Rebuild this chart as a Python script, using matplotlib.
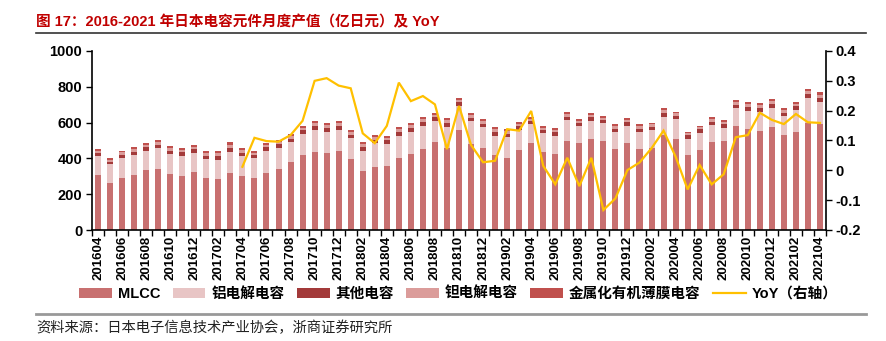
import numpy as np
import matplotlib
matplotlib.use("Agg")
import matplotlib.pyplot as plt
from matplotlib.patches import Patch
from matplotlib.lines import Line2D

plt.rcParams['font.family'] = ['Liberation Sans', 'Noto Sans CJK SC', 'DejaVu Sans']

months = [f"{y}{m:02d}" for y in range(2016, 2022) for m in range(1, 13)]
months = months[months.index("201604"):months.index("202104") + 1]

mlcc = [306, 261, 291, 307, 336, 341, 313, 302, 322, 289, 283, 321,
        302, 289, 318, 339, 378, 417, 434, 432, 443, 398, 330, 354,
        357, 402, 425, 454, 493, 456, 559, 480, 460, 419, 404, 449,
        488, 438, 423, 499, 484, 508, 495, 454, 484, 452, 456, 531,
        510, 421, 449, 492, 495, 583, 564, 555, 574, 531, 549, 596, 592]
alu = [106, 105, 112, 113, 106, 116, 111, 110, 109, 105, 109, 114,
       111, 111, 123, 121, 115, 119, 125, 117, 116, 114, 113, 130,
       123, 125, 124, 127, 118, 121, 134, 127, 113, 108, 114, 110,
       102, 102, 104, 115, 97, 103, 101, 95, 97, 97, 103, 102,
       112, 89, 95, 93, 77, 97, 103, 102, 106, 106, 121, 139, 125]
other = [19, 16, 18, 18, 19, 20, 19, 21, 19, 20, 21, 24,
         19, 18, 21, 19, 18, 20, 22, 22, 21, 20, 21, 21,
         21, 21, 22, 22, 20, 21, 20, 21, 21, 21, 20, 20,
         19, 18, 20, 20, 18, 19, 18, 18, 20, 18, 18, 22,
         17, 18, 18, 20, 19, 21, 22, 23, 22, 19, 20, 25, 23]
tantalum = [13, 11, 13, 13, 13, 14, 13, 15, 13, 14, 15, 17,
            13, 13, 15, 13, 13, 14, 15, 15, 15, 14, 15, 15,
            15, 14, 15, 15, 14, 15, 14, 15, 15, 14, 14, 14,
            13, 13, 14, 14, 12, 14, 13, 13, 14, 13, 13, 16,
            12, 12, 12, 14, 14, 14, 16, 16, 16, 14, 14, 17, 16]
film = [10, 8, 10, 10, 10, 10, 11, 11, 11, 11, 11, 13,
        11, 10, 11, 11, 10, 11, 11, 12, 12, 11, 11, 11,
        11, 11, 12, 11, 10, 11, 10, 11, 11, 11, 10, 10,
        10, 10, 11, 11, 9, 10, 10, 10, 11, 10, 10, 12,
        8, 9, 9, 10, 10, 11, 12, 12, 12, 10, 11, 13, 13]
yoy = [None] * 12 + [
    0.012, 0.109, 0.098, 0.096, 0.118, 0.166, 0.300, 0.309, 0.284, 0.275, 0.124, 0.091,
    0.149, 0.294, 0.232, 0.249, 0.221, 0.071, 0.216, 0.085, 0.027, 0.032, 0.138, 0.133,
    0.199, 0.015, -0.047, 0.042, -0.053, 0.042, -0.133, -0.094, 0.001, 0.026, 0.074, 0.133,
    0.046, -0.064, 0.018, -0.047, -0.013, 0.111, 0.118, 0.193, 0.169, 0.155, 0.189, 0.161, 0.159]

names = ["MLCC", "铝电解电容", "其他电容", "钽电解电容", "金属化有机薄膜电容"]
colors = ["#C87070", "#E8C5C5", "#A33A3A", "#DB9C9A", "#C0504D"]
yoy_color = "#FFC000"

fig = plt.figure(figsize=(8.87, 3.41), dpi=100)
ax = fig.add_axes([92 / 887, 1 - 230 / 341, (826 - 92) / 887, (230 - 51) / 341])
ax2 = ax.twinx()

x = np.arange(len(months))
bottom = np.zeros(len(months))
for vals, c in zip([mlcc, alu, other, tantalum, film], colors):
    v = np.array(vals, dtype=float)
    ax.bar(x, v, 0.5, bottom=bottom, color=c, linewidth=0, zorder=2)
    bottom += v

yy = np.array([np.nan if v is None else v for v in yoy], dtype=float)
ax2.plot(x, yy, color=yoy_color, lw=1.6, zorder=3, solid_joinstyle='miter')

ax.set_xlim(-0.5, len(months) - 0.5)
ax.set_ylim(0, 1000)
ax2.set_ylim(-0.2, 0.4)
ax.set_yticks(np.arange(0, 1001, 200))
ax2.set_yticks(np.arange(-0.2, 0.401, 0.1))
ax2.set_yticklabels(["-0.2", "-0.1", "0", "0.1", "0.2", "0.3", "0.4"])

ax.set_xticks(np.arange(-0.5, len(months), 1))
ax.set_xticklabels([])
ax.set_xticks(x[::2], months[::2], minor=True)
ax.tick_params(axis='x', which='major', length=4, width=1, direction='out', color='black')
ax.tick_params(axis='x', which='minor', length=0, pad=4, labelrotation=90, labelsize=9.5)
for t in ax.get_xticklabels(minor=True):
    t.set_fontweight('bold')

ax.tick_params(axis='y', length=4, width=1, labelsize=10.5, pad=3)
ax2.tick_params(axis='y', length=4, width=1, labelsize=10.5, pad=3)
for t in ax.get_yticklabels() + ax2.get_yticklabels():
    t.set_fontweight('bold')

for a in (ax, ax2):
    a.spines['top'].set_visible(False)
ax.spines['right'].set_visible(False)
ax2.spines['left'].set_visible(False)
ax2.spines['bottom'].set_visible(False)
for s in ['left', 'bottom']:
    ax.spines[s].set_linewidth(1.2)
ax2.spines['right'].set_linewidth(1.2)

handles = [Patch(facecolor=c, edgecolor='none') for c in colors]
handles.append(Line2D([0], [0], color=yoy_color, lw=1.6))
labels = names + ["YoY（右轴）"]
leg = fig.legend(handles, labels, loc='center left', bbox_to_anchor=(79 / 887, 1 - 294 / 341),
                 ncol=6, frameon=False, borderpad=0, borderaxespad=0,
                 handlelength=2.25, handleheight=0.7, handletextpad=0.4,
                 columnspacing=0.85, prop={'size': 10.5, 'weight': 'bold'})

fig.text(36 / 887, 1 - 22 / 341, "图 17：2016-2021 年日本电容元件月度产值（亿日元）及 YoY",
         color="#C00000", fontsize=10.5, fontweight='bold', va='center', ha='left')
fig.add_artist(Line2D([36 / 887, 866 / 887], [1 - 33 / 341, 1 - 33 / 341],
                      color="#333333", lw=1.2, transform=fig.transFigure))
fig.add_artist(Line2D([36 / 887, 866 / 887], [1 - 314 / 341, 1 - 314 / 341],
                      color="#999999", lw=2, transform=fig.transFigure))
fig.text(36 / 887, 1 - 328 / 341, "资料来源：日本电子信息技术产业协会，浙商证券研究所",
         family=['Noto Sans CJK SC'], fontweight='light', fontsize=10.3,
         color="#222222", va='center', ha='left')

fig.savefig("out.png", dpi=100)
